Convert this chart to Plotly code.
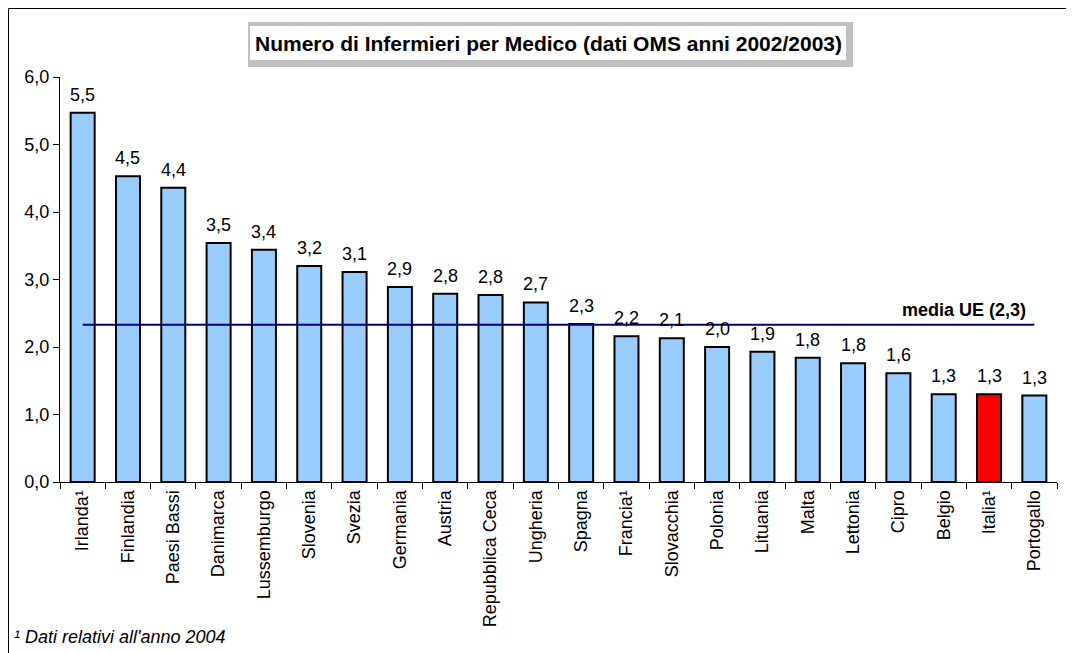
import plotly.graph_objects as go

paesi = ["Irlanda¹", "Finlandia", "Paesi Bassi", "Danimarca", "Lussemburgo", "Slovenia",
         "Svezia", "Germania", "Austria", "Repubblica Ceca", "Ungheria", "Spagna",
         "Francia¹", "Slovacchia", "Polonia", "Lituania", "Malta", "Lettonia",
         "Cipro", "Belgio", "Italia¹", "Portogallo"]
infermieri = [5.47, 4.53, 4.36, 3.54, 3.44, 3.2, 3.11, 2.89, 2.79, 2.77, 2.66, 2.34,
              2.16, 2.13, 2.0, 1.93, 1.84, 1.76, 1.61, 1.3, 1.3, 1.28]
media_ue = 2.33

colori = ["#FF0000" if p == "Italia¹" else "#99CCFF" for p in paesi]
font = "Liberation Sans, Arial, sans-serif"

# the page body adds 8px around the figure
W, H = 1066, 645
L, R, T, B = 52, 17, 69, 171


def px(sx):
    return (sx - 8 - L) / (W - L - R)


def py(sy):
    return (H - B - (sy - 8)) / (H - T - B)


fig = go.Figure()
fig.add_trace(go.Bar(
    x=paesi, y=infermieri,
    marker=dict(color=colori, line=dict(color="black", width=2)),
    cliponaxis=False,
))
fig.add_trace(go.Scatter(
    x=[paesi[0], paesi[-1]], y=[media_ue, media_ue],
    mode="lines", line=dict(color="#000080", width=2),
))

# value labels above each bar
etichette = [
    dict(text=f"{v:.1f}".replace(".", ","), x=p, y=v, xref="x", yref="y",
         xanchor="center", yanchor="bottom", yshift=6, showarrow=False,
         font=dict(size=18))
    for p, v in zip(paesi, infermieri)
]

fig.update_layout(
    width=W, height=H,
    margin=dict(l=L, r=R, t=T, b=B, autoexpand=False),
    paper_bgcolor="white", plot_bgcolor="white",
    showlegend=False, bargap=0.47,
    separators=",.",
    font=dict(family=font, size=18, color="black"),
    xaxis=dict(showline=True, linecolor="black", linewidth=1, ticks="outside",
               tickson="boundaries", ticklen=6, tickcolor="black", tickangle=-90,
               tickfont=dict(size=18), automargin=False),
    yaxis=dict(range=[0, 6], dtick=1, tickformat=".1f", showgrid=False, zeroline=False,
               showline=True, linecolor="black", linewidth=1, ticks="outside",
               ticklen=6, tickcolor="black", tickfont=dict(size=18), automargin=False),
    shapes=[
        dict(type="rect", xref="paper", yref="paper", x0=px(8.5), x1=px(1100),
             y0=py(700), y1=py(8.5), line=dict(color="black", width=1)),
        dict(type="rect", xref="paper", yref="paper", x0=px(248), x1=px(853),
             y0=py(67), y1=py(22), fillcolor="#C0C0C0", line=dict(width=0)),
        dict(type="rect", xref="paper", yref="paper", x0=px(250), x1=px(846),
             y0=py(60), y1=py(26), fillcolor="white", line=dict(width=0)),
    ],
    annotations=etichette + [
        dict(text="<b>Numero di Infermieri per Medico (dati OMS anni 2002/2003)</b>",
             xref="paper", yref="paper", x=px(548), y=py(43), xanchor="center",
             yanchor="middle", showarrow=False, font=dict(size=21)),
        dict(text="<b>media UE (2,3)</b>", xref="x", yref="y", x=paesi[-1], y=media_ue,
             xanchor="right", yanchor="bottom", xshift=-6, yshift=3, showarrow=False,
             font=dict(size=18)),
        dict(text="<i>¹ Dati relativi all'anno 2004</i>", xref="paper", yref="paper",
             x=px(12), y=py(637), xanchor="left", yanchor="middle", showarrow=False,
             font=dict(size=18)),
    ],
)

fig.write_html("out.html")
